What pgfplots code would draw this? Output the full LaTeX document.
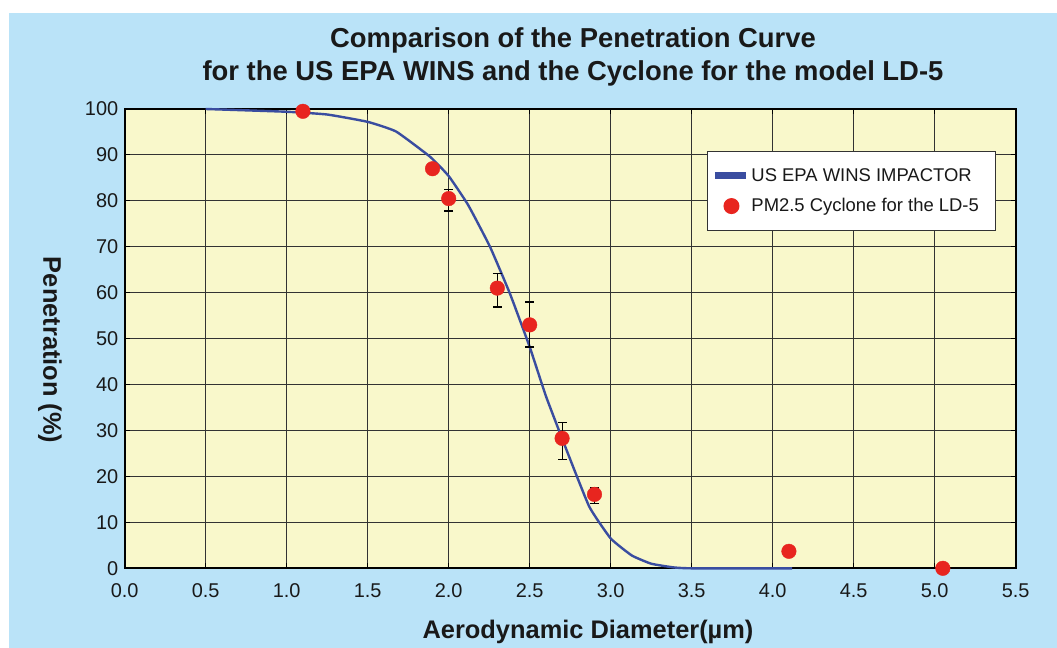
\documentclass[border=0pt]{standalone}
\usepackage{pgfplots}
\pgfplotsset{compat=1.18}
\usepackage{fontspec}
\setmainfont{Liberation Sans}
\definecolor{bgblue}{HTML}{BAE3F8}
\definecolor{plotyellow}{HTML}{F9F8CB}
\definecolor{curveblue}{HTML}{3A4DA0}
\definecolor{dotred}{HTML}{E8251F}
\begin{document}
\begin{tikzpicture}[x=1bp,y=1bp]
\fill[white] (0,0) rectangle (1057,-648);
\fill[bgblue] (9,-13) rectangle (1057,-648);
\node[font=\fontsize{27.5}{33}\selectfont\bfseries, align=center, text=black!90] at (573,-57) {Comparison of the Penetration Curve\\for the US EPA WINS and the Cyclone for the model LD-5};
\begin{axis}[
  at={(124.7bp,-568.3bp)}, anchor=south west,
  scale only axis, width=891bp, height=459.3bp,
  xmin=0, xmax=5.5, ymin=0, ymax=100,
  axis background/.style={fill=plotyellow},
  axis line style={line width=1.8bp, black},
  xtick={0,0.5,...,5.5}, ytick={0,10,...,100},
  x tick label style={/pgf/number format/fixed, /pgf/number format/fixed zerofill, /pgf/number format/precision=1, yshift=-12bp},
  /pgf/number format/assume math mode=true,
  tick label style={font=\fontsize{20}{22}\selectfont, text=black!90},
  y tick label style={xshift=-3bp},
  tick align=inside, major tick length=5bp, tick style={black, line width=1bp},
  grid=major, major grid style={black!80, line width=0.9bp},
  xlabel={Aerodynamic Diameter(\textmu m)},
  ylabel={Penetration (\%)},
  label style={font=\fontsize{25.5}{28}\selectfont\bfseries, text=black!90},
  xlabel style={at={(axis description cs:0.52,0)}, yshift=-63.7bp, anchor=center},
  ylabel style={at={(axis description cs:-0.0838,0.475)}, rotate=180, anchor=center},
  clip=false,
  legend style={at={(axis description cs:0.6535,0.909)}, anchor=north west,
    draw=black!80, line width=1bp, fill=white, font=\fontsize{18.5}{21}\selectfont,
    inner xsep=4bp, inner ysep=15bp, row sep=12bp, text=black!90},
  legend cell align=left,
]
\addplot[curveblue, line width=2.4bp, smooth, tension=0.25,
  legend image code/.code={\draw[curveblue, line width=7bp] (0bp,0bp) -- (31bp,0bp);}]
 coordinates {
 (0.5,100) (1.0,99.4) (1.25,98.8) (1.5,97.2) (1.675,95.1) (1.885,89.6) (2.0,85.4)
 (2.12,79.1) (2.255,70.0) (2.378,59.8) (2.5,48.2) (2.6,37.5) (2.728,25.7) (2.868,13.4)
 (3.0,6.5) (3.13,2.8) (3.25,1.0) (3.387,0.2) (3.5,0) (4.12,0)
 };
\addlegendentry{US EPA WINS IMPACTOR\rule{18bp}{0bp}}
\addplot[only marks, mark=*, mark size=7.3bp, mark options={fill=dotred, draw=dotred},
  legend image code/.code={\fill[dotred] (16.5bp,0bp) circle (7.5bp);},
  error bars/.cd, y dir=both, y explicit,
  error bar style={black, line width=1.2bp},
  error mark options={rotate=90, mark size=4.5bp, line width=1.2bp, black},
  ] table[x=x, y=y, y error plus=ep, y error minus=em] {
 x y ep em
 1.1 99.5 0 0
 1.9 87.0 0.8 0.8
 2.0 80.5 2.0 2.7
 2.3 61.0 3.2 4.1
 2.5 53.0 5.0 4.8
 2.7 28.3 3.4 4.6
 2.9 16.1 1.4 2.0
 4.1 3.7 0 0
 5.05 0 0 0
 };
\addlegendentry{PM2.5 Cyclone for the LD-5}
\end{axis}
\end{tikzpicture}
\end{document}
